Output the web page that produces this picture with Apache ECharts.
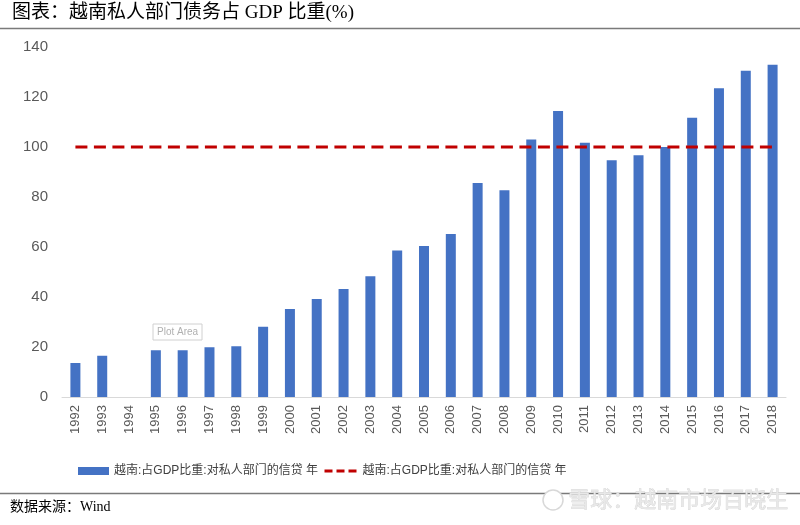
<!DOCTYPE html>
<html>
<head>
<meta charset="utf-8">
<script src="https://cdn.jsdelivr.net/npm/echarts@6/dist/echarts.min.js"></script>
<style>
html,body{margin:0;padding:0;background:#fff;}
#chart{width:800px;height:525px;}
</style>
</head>
<body>
<div id="chart"></div>
<script>
const years = ['1992','1993','1994','1995','1996','1997','1998','1999','2000','2001','2002','2003','2004','2005','2006','2007','2008','2009','2010','2011','2012','2013','2014','2015','2016','2017','2018'];
const debtRatio = [13.6,16.5,null,18.7,18.7,19.9,20.3,28.1,35.2,39.2,43.2,48.3,58.6,60.4,65.2,85.6,82.7,103,114.4,101.7,94.7,96.7,100,111.7,123.5,130.5,132.9];
const reference = [100,100,100,100,100,100,100,100,100,100,100,100,100,100,100,100,100,100,100,100,100,100,100,100,100,100,100];
const yTicks = {min:0, max:140, interval:20};
const seriesLabel = '越南:占GDP比重:对私人部门的信贷 年';
const titleText = '图表：越南私人部门债务占 GDP 比重(%)';
const sourceText = '数据来源：Wind';
const watermark = '雪球：越南市场百晓生';

const chart = echarts.init(document.getElementById('chart'));
const sans = '"Liberation Sans","Noto Sans CJK SC",sans-serif';
const serif = '"Liberation Serif","Noto Sans CJK SC",serif';
const legendText = {fontFamily:sans,fontSize:12,color:'#404040'};
chart.setOption({
  animation:false,
  backgroundColor:'#fff',
  grid:{left:62,right:14,top:47,bottom:128,containLabel:false},
  legend:[
    {left:73, top:460, itemWidth:31, itemHeight:8, itemGap:0,
     data:[{name:'bar',icon:'rect'}],
     formatter:function(){return seriesLabel;}, textStyle:legendText},
    {left:318, top:460, itemWidth:33, itemHeight:8, itemGap:0,
     data:[{name:'line',itemStyle:{opacity:0},lineStyle:{type:[8,4],width:3,color:'#c00000'}}],
     formatter:function(){return seriesLabel;}, textStyle:legendText}
  ],
  xAxis:{
    type:'category', data:years, boundaryGap:true,
    axisLine:{lineStyle:{color:'#d9d9d9',width:1}},
    axisTick:{show:false},
    axisLabel:{rotate:90,fontFamily:sans,fontSize:13,color:'#595959',margin:8,interval:0}
  },
  yAxis:{
    type:'value', min:yTicks.min, max:yTicks.max, interval:yTicks.interval,
    splitLine:{show:false}, axisLine:{show:false}, axisTick:{show:false},
    axisLabel:{fontFamily:sans,fontSize:15,color:'#595959',margin:14}
  },
  series:[
    {name:'bar',type:'bar',data:debtRatio,barWidth:10,itemStyle:{color:'#4472c4'}},
    {name:'line',type:'line',data:reference,symbol:'none',z:5,
     lineStyle:{color:'#c00000',width:3,type:[12,6.5]},itemStyle:{color:'#c00000'}}
  ],
  graphic:[
    {type:'text',left:12,top:4,style:{text:titleText,font:'19px '+serif,fill:'#000'}},
    {type:'line',shape:{x1:0,y1:28.5,x2:800,y2:28.5},style:{stroke:'#7a7a7a',lineWidth:1.5}},
    {type:'line',shape:{x1:0,y1:493.5,x2:800,y2:493.5},style:{stroke:'#7a7a7a',lineWidth:1.5}},
    {type:'text',left:10,top:500,style:{text:sourceText,font:'14px '+serif,fill:'#000'}},
    {type:'circle',shape:{cx:553,cy:500,r:10},style:{fill:'#fff',stroke:'#d8d8d8',lineWidth:1.5}},
    {type:'text',left:568,top:487,style:{text:watermark,font:'22px "Noto Sans CJK SC",sans-serif',fill:'#e8e8e8',stroke:'#c8c8c8',lineWidth:0.5}},
    {type:'rect',shape:{x:153,y:324,width:49,height:16},style:{fill:'#fff',stroke:'#d0d0d0',lineWidth:1}},
    {type:'text',left:157,top:327,style:{text:'Plot Area',font:'10px '+sans,fill:'#b0b0b0'}}
  ]
});
</script>
</body>
</html>
